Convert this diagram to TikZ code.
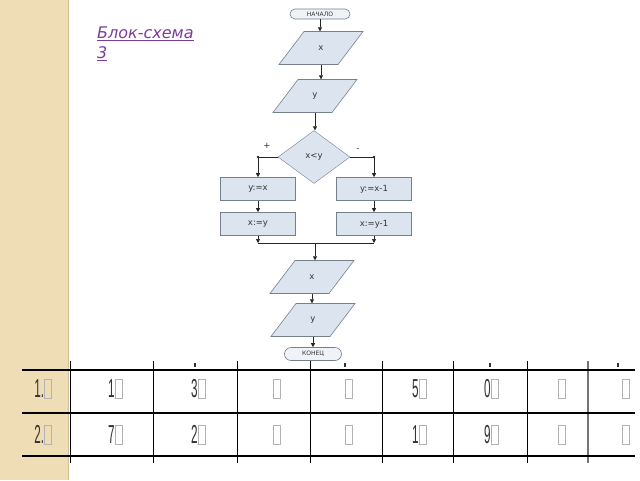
\documentclass[tikz,border=0pt]{standalone}
\usepackage{fontspec}
\setmainfont{DejaVu Sans}
\newfontfamily\tabfont{Liberation Sans}
\usetikzlibrary{shapes.geometric,shapes.misc,arrows.meta}
\definecolor{beige}{HTML}{EFDDB5}
\definecolor{beigeedge}{HTML}{D3BF97}
\definecolor{boxfill}{HTML}{DCE4F0}
\definecolor{boxline}{HTML}{75808F}
\definecolor{titlecol}{HTML}{7A3C9E}
\definecolor{txt}{HTML}{333333}
\newcommand\tofu{{\color{gray!60}\setlength\fboxsep{0pt}\setlength\fboxrule{0.9pt}\fbox{\phantom{0}}}}
\newcommand\tcell[1]{\scalebox{0.45}[1]{\tabfont\fontsize{26}{26}\selectfont\color{txt}#1\tofu}}
\newcommand\iobox[4]{%
  \draw[parashape] (#2-42,#3+16.5) -- (#2+17,#3+16.5) -- (#2+42,#3-16.5) -- (#2-17,#3-16.5) -- cycle;
  \node[io] (#1) at (#2,#3) {#4};}
\tikzset{
  term/.style={rounded rectangle, draw=boxline, fill=boxfill!45, line width=0.6pt, inner sep=0pt,
    font=\fontsize{6}{6}\selectfont, text=txt},
  proc/.style={rectangle, draw=boxline, fill=boxfill, line width=0.6pt, minimum width=75pt,
    minimum height=23pt, inner sep=0pt, text=txt},
  dec/.style={diamond, draw=boxline, fill=boxfill, minimum width=72pt, minimum height=53pt,
    inner sep=0pt, text=txt},
  io/.style={rectangle, minimum width=58pt, minimum height=33pt, inner sep=0pt, text=txt},
  parashape/.style={draw=boxline, fill=boxfill, line width=0.6pt},
  flow/.style={draw=black!85, line width=0.7pt, -{Triangle[length=4pt,width=4pt]}},
  conn/.style={draw=black!85, line width=0.7pt},
  thinrule/.style={draw=black, line width=0.9pt},
  thickrule/.style={draw=black, line width=2.6pt},
  cellnode/.style={inner sep=0pt},
  tick/.style={fill=black!80}
}
\begin{document}
\begin{tikzpicture}[x=1pt,y=-1pt,font=\fontsize{8.5}{10}\selectfont]
\useasboundingbox (0,0) rectangle (640,480);
\fill[white] (0,0) rectangle (640,480);
\fill[beige] (0,0) rectangle (68,480);
\draw[beigeedge, line width=1.2pt] (68.5,0) -- (68.5,480);

% title
\node[anchor=north west, align=left, text=titlecol, font=\fontsize{16}{20}\selectfont\itshape, inner sep=0pt]
  (title) at (97,27) {\underline{Блок-схема}\\\underline{3}};

% flowchart
\node[term, minimum width=60pt, minimum height=10pt] (start) at (320,14) {НАЧАЛО};
\iobox{p1}{321}{48}{x}
\iobox{p2}{315}{96}{y}
\node[dec] (d) at (314,157) {x<y};
\node[proc] (b1) at (258,189) {y:=x};
\node[proc] (b2) at (374,189) {y:=x-1};
\node[proc] (b3) at (258,224) {x:=y};
\node[proc] (b4) at (374,224) {x:=y-1};
\iobox{p3}{312}{277}{x}
\iobox{p4}{313}{320}{y}
\node[term, minimum width=57pt, minimum height=13pt] (end) at (313,354) {КОНЕЦ};
\coordinate (m) at (315,243);

\node[text=txt] (plus) at (267,146) {+};
\node[text=txt] (minus) at (358,150) {-};

\draw[flow] (start.south) -- (start.south |- p1.north);
\draw[flow] (p1.south) -- (p1.south |- p2.north);
\draw[flow] (p2.south) -- (p2.south |- d.north);
\draw[flow] (d.west) -| (b1.north);
\draw[flow] (d.east) -| (b2.north);
\fill[black!85] (d.west -| b1.north) circle (1.3pt);
\fill[black!85] (d.east -| b2.north) circle (1.3pt);
\draw[flow] (b1) -- (b3);
\draw[flow] (b2) -- (b4);
\draw[flow] (b3.south) -- (b3.south |- m);
\draw[flow] (b4.south) -- (b4.south |- m);
\draw[conn] (b3.south |- m) -- (b4.south |- m);
\draw[flow] (m) -- (m |- p3.north);
\draw[flow] (p3.south) -- (p3.south |- p4.north);
\draw[flow] (p4.south) -- (p4.south |- end.north);

% table
\foreach \x in {70,153,237,310,382,453,527}
  \draw[black, line width=0.9pt] (\x,361) -- (\x,463);
\draw[black!55, line width=1.6pt] (588,361) -- (588,463);
\draw[thinrule, line width=1.6pt] (22,370) -- (635,370);
\draw[thickrule] (22,413) -- (635,413);
\draw[thickrule] (22,456) -- (635,456);

\foreach \x in {195,345,490,618}
  \fill[tick] (\x-1,363) rectangle (\x+1,367);

\node[cellnode] (c11) at (43,389)  {\tcell{1.}};
\node[cellnode] (c12) at (115,389) {\tcell{1}};
\node[cellnode] (c13) at (198,389) {\tcell{3}};
\node[cellnode] (c14) at (277,389) {\tcell{}};
\node[cellnode] (c15) at (349,389) {\tcell{}};
\node[cellnode] (c16) at (419,389) {\tcell{5}};
\node[cellnode] (c17) at (491,389) {\tcell{0}};
\node[cellnode] (c18) at (562,389) {\tcell{}};
\node[cellnode] (c19) at (626,389) {\tcell{}};
\node[cellnode] (c21) at (43,435)  {\tcell{2.}};
\node[cellnode] (c22) at (115,435) {\tcell{7}};
\node[cellnode] (c23) at (198,435) {\tcell{2}};
\node[cellnode] (c24) at (277,435) {\tcell{}};
\node[cellnode] (c25) at (349,435) {\tcell{}};
\node[cellnode] (c26) at (419,435) {\tcell{1}};
\node[cellnode] (c27) at (491,435) {\tcell{9}};
\node[cellnode] (c28) at (562,435) {\tcell{}};
\node[cellnode] (c29) at (626,435) {\tcell{}};
\end{tikzpicture}
\end{document}
